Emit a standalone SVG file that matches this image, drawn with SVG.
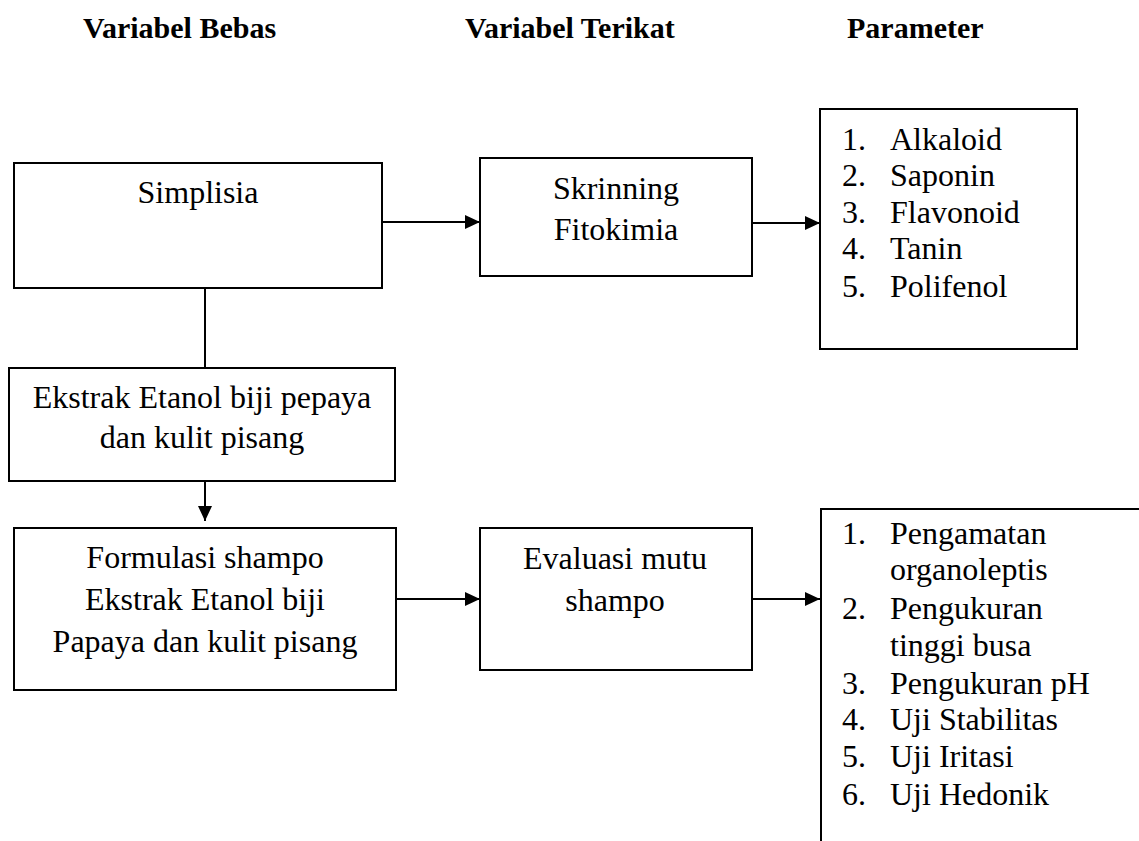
<svg xmlns="http://www.w3.org/2000/svg" width="1139" height="841" viewBox="0 0 1139 841">
<style>
.box{fill:#fff;stroke:#000;stroke-width:2}
.t{font-family:"Liberation Serif","Times New Roman",serif;font-size:32px;fill:#000}
.c{text-anchor:middle}
.h{font-family:"Liberation Serif","Times New Roman",serif;font-size:30px;font-weight:bold;fill:#000}
.ln{stroke:#000;stroke-width:2;fill:none}
</style>
<defs>
<marker id="ah" markerWidth="15" markerHeight="14" refX="15" refY="7" orient="auto" markerUnits="userSpaceOnUse">
<path d="M0,0 L15,7 L0,14 Z" fill="#000"/>
</marker>
</defs>
<rect width="1139" height="841" fill="#fff"/>
<g id="headers">
<text class="h" x="83" y="38">Variabel Bebas</text>
<text class="h" x="465" y="38">Variabel Terikat</text>
<text class="h" x="847" y="38">Parameter</text>
</g>
<g id="connectors">
<line class="ln" x1="382" y1="222" x2="480" y2="222" marker-end="url(#ah)"/>
<line class="ln" x1="752" y1="223" x2="820" y2="223" marker-end="url(#ah)"/>
<line class="ln" x1="205" y1="288" x2="205" y2="368"/>
<line class="ln" x1="205" y1="481" x2="205" y2="521" marker-end="url(#ah)"/>
<line class="ln" x1="396" y1="599" x2="480" y2="599" marker-end="url(#ah)"/>
<line class="ln" x1="752" y1="599" x2="820" y2="599" marker-end="url(#ah)"/>
</g>
<g id="simplisia">
<rect class="box" x="14" y="163" width="368" height="125"/>
<text class="t c" x="198" y="203">Simplisia</text>
</g>
<g id="skrinning">
<rect class="box" x="480" y="158" width="272" height="118"/>
<text class="t c" x="616" y="199">Skrinning</text>
<text class="t c" x="616" y="240">Fitokimia</text>
</g>
<g id="parameter1">
<rect class="box" x="820" y="109" width="257" height="240"/>
<text class="t" x="842" y="150">1.</text><text class="t" x="890" y="150">Alkaloid</text>
<text class="t" x="842" y="186">2.</text><text class="t" x="890" y="186">Saponin</text>
<text class="t" x="842" y="223">3.</text><text class="t" x="890" y="223">Flavonoid</text>
<text class="t" x="842" y="259">4.</text><text class="t" x="890" y="259">Tanin</text>
<text class="t" x="842" y="297">5.</text><text class="t" x="890" y="297">Polifenol</text>
</g>
<g id="ekstrak">
<rect class="box" x="9" y="368" width="386" height="113"/>
<text class="t c" x="202" y="408">Ekstrak Etanol biji pepaya</text>
<text class="t c" x="202" y="448">dan kulit pisang</text>
</g>
<g id="formulasi">
<rect class="box" x="14" y="528" width="382" height="162"/>
<text class="t c" x="205" y="568">Formulasi shampo</text>
<text class="t c" x="205" y="610">Ekstrak Etanol biji</text>
<text class="t c" x="205" y="652">Papaya dan kulit pisang</text>
</g>
<g id="evaluasi">
<rect class="box" x="480" y="528" width="272" height="142"/>
<text class="t c" x="615" y="569">Evaluasi mutu</text>
<text class="t c" x="615" y="611">shampo</text>
</g>
<g id="parameter2">
<path class="ln" d="M821,842 L821,509 L1140,509"/>
<text class="t" x="842" y="544">1.</text><text class="t" x="890" y="544">Pengamatan</text>
<text class="t" x="890" y="580">organoleptis</text>
<text class="t" x="842" y="619">2.</text><text class="t" x="890" y="619">Pengukuran</text>
<text class="t" x="890" y="656">tinggi busa</text>
<text class="t" x="842" y="694">3.</text><text class="t" x="890" y="694">Pengukuran pH</text>
<text class="t" x="842" y="730">4.</text><text class="t" x="890" y="730">Uji Stabilitas</text>
<text class="t" x="842" y="767">5.</text><text class="t" x="890" y="767">Uji Iritasi</text>
<text class="t" x="842" y="805">6.</text><text class="t" x="890" y="805">Uji Hedonik</text>
</g>
</svg>
